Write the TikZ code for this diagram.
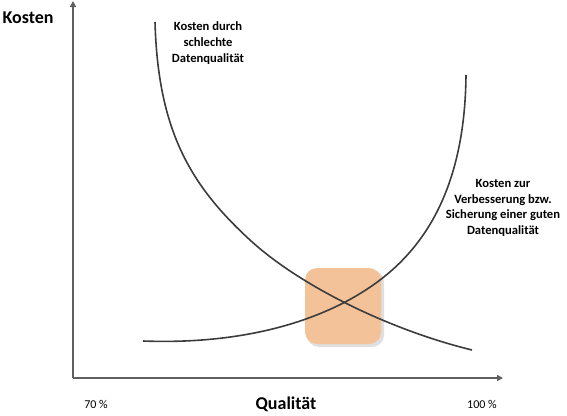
\documentclass[tikz,border=0pt]{standalone}
\usepackage{fontspec}
\setmainfont{Carlito}
\usetikzlibrary{arrows.meta}
\definecolor{boxorange}{RGB}{243,194,152}
\definecolor{curvegray}{RGB}{60,60,60}
\tikzset{
  axisline/.style={draw=gray!75!black, line width=1.6pt, -{Triangle[length=6pt,width=6pt]}},
  costcurve/.style={draw=curvegray, line width=1.6pt},
  curvelabel/.style={align=center, font=\fontsize{12.6}{15.8}\selectfont\bfseries},
  axislabel/.style={font=\fontsize{18}{20}\selectfont\bfseries},
  ticklabel/.style={font=\fontsize{12}{14}\selectfont},
}
\begin{document}
\begin{tikzpicture}[x=1pt, y=-1pt]
        \useasboundingbox (0,0) rectangle (567,415);
        % Optimum region
        \fill[gray!25, rounded corners=12pt] (307,270) rectangle (384,347);
        \node[fill=boxorange, rounded corners=12pt, minimum width=76pt, minimum height=76pt, inner sep=0pt] (opt) at (343,306) {};
        
        % Axes
        \coordinate (origin) at (73,378);
        \coordinate (ytop) at (73,1);
        \coordinate (xend) at (503,378);
        \draw[axisline] (origin) -- (ytop);
        \draw[axisline] (origin) -- (xend);
        
        % Curves
        \draw[costcurve] (155,22) .. controls (158,130) and (190,185) .. (250,240)
                                  .. controls (300,286) and (390,330) .. (472,350);
        \draw[costcurve] (143,341) .. controls (250,345) and (330,318) .. (380,280)
                                   .. controls (430,242) and (465,180) .. (466,75);
        
        % Labels
        \node[axislabel, anchor=west] (kosten) at (-1,18) {Kosten};
        \node[axislabel] (qualitaet) at (286,404) {Qualität};
        \node[ticklabel] (low) at (96,404) {70 \%};
        \node[ticklabel] (high) at (482,404) {100 \%};
        \node[curvelabel] (bad) at (208,43) {Kosten durch\\schlechte\\Datenqualität};
        \node[curvelabel] (good) at (503,208) {Kosten zur\\Verbesserung bzw.\\Sicherung einer guten\\Datenqualität};
    \end{tikzpicture}
\end{document}
